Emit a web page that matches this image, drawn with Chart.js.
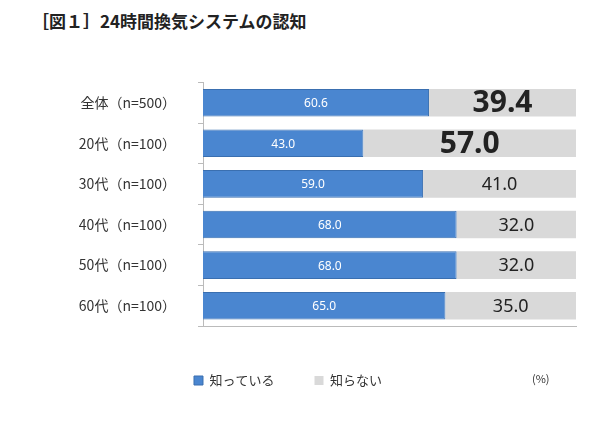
<!DOCTYPE html>
<html>
<head>
<meta charset="utf-8">
<script src="https://cdn.jsdelivr.net/npm/chart.js@4"></script>
<style>
  body { margin: 0; background: #fff; font-family: "Noto Sans CJK JP", sans-serif; }
  #title { position: absolute; left: 32px; top: 8px; font-size: 17px; font-weight: bold; color: #222; }
  #wrap { position: absolute; left: 0; top: 52px; width: 600px; height: 345px; }
  #unit { position: absolute; left: 532px; top: 370px; font-size: 11px; color: #333; }
</style>
</head>
<body>
<div id="title">［図１］24時間換気システムの認知</div>
<div id="wrap"><canvas id="c"></canvas></div>
<div id="unit">(%)</div>
<script>
const categories = ["全体（n=500）", "20代（n=100）", "30代（n=100）", "40代（n=100）", "50代（n=100）", "60代（n=100）"];
const knowValues = [60.6, 43.0, 59.0, 68.0, 68.0, 65.0];
const notKnowValues = [39.4, 57.0, 41.0, 32.0, 32.0, 35.0];
const seriesNames = ["知っている", "知らない"];

// Draw value labels in the middle of each bar segment
const valueLabels = {
  id: "valueLabels",
  afterDatasetsDraw(chart) {
    const ctx = chart.ctx;
    ctx.save();
    ctx.textAlign = "center";
    ctx.textBaseline = "middle";
    chart.data.datasets.forEach((ds, di) => {
      chart.getDatasetMeta(di).data.forEach((bar, i) => {
        const x = (bar.x + bar.base) / 2;
        const text = ds.data[i].toFixed(1);
        if (di === 0) {
          ctx.fillStyle = "#fff";
          ctx.font = "12px 'Noto Sans', sans-serif";
        } else if (i < 2) {
          ctx.fillStyle = "#222";
          ctx.font = "bold 30px 'Noto Sans', sans-serif";
        } else {
          ctx.fillStyle = "#222";
          ctx.font = "18px 'Noto Sans', sans-serif";
        }
        ctx.fillText(text, x, bar.y + 1);
      });
    });
    ctx.restore();
  }
};

new Chart(document.getElementById("c"), {
  type: "bar",
  data: {
    labels: categories,
    datasets: [
      { label: seriesNames[0], data: knowValues, backgroundColor: "#4a86d0", borderColor: "#3a6fb0", borderWidth: 1 },
      { label: seriesNames[1], data: notKnowValues, backgroundColor: "#d9d9d9" }
    ]
  },
  options: {
    indexAxis: "y",
    responsive: true,
    maintainAspectRatio: false,
    animation: { duration: 0 },
    layout: { padding: { left: 0, right: 24, top: 0, bottom: 0 } },
    datasets: { bar: { categoryPercentage: 0.68, barPercentage: 1 } },
    scales: {
      x: {
        stacked: true, min: 0, max: 100,
        ticks: { display: false },
        grid: { display: false },
        border: { color: "#bbb" }
      },
      y: {
        stacked: true,
        afterFit(scale) { scale.width = 203; },
        ticks: { color: "#333", font: { size: 14, family: "'Noto Sans CJK JP'" }, padding: 22 },
        grid: { display: true, drawOnChartArea: false, offset: true, tickLength: 5, color: "#bbb" },
        border: { color: "#bbb" }
      }
    },
    plugins: {
      legend: {
        position: "bottom",
        labels: { boxWidth: 9, boxHeight: 9, font: { size: 13, family: "'Noto Sans CJK JP'" }, color: "#333", padding: 40 }
      },
      tooltip: { enabled: false }
    }
  },
  plugins: [valueLabels]
});
</script>
</body>
</html>
